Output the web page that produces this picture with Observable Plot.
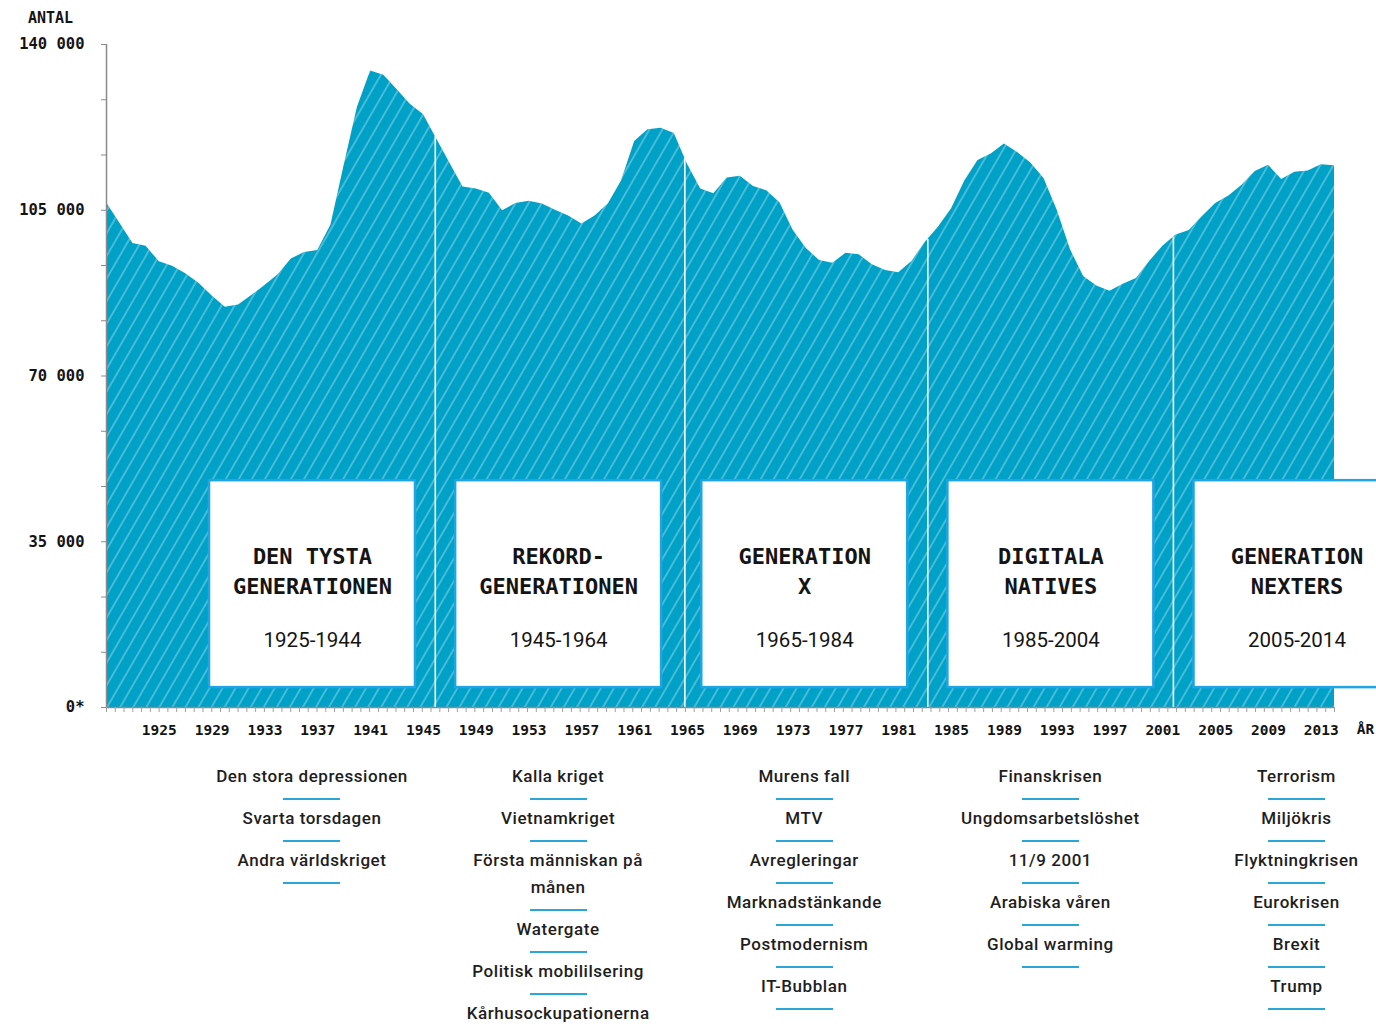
<!DOCTYPE html>
<html><head><meta charset="utf-8">
<script src="https://cdn.jsdelivr.net/npm/d3@7"></script>
<script src="https://cdn.jsdelivr.net/npm/@observablehq/plot@0.6"></script>
<style>
html,body{margin:0;padding:0;background:#fff;overflow:hidden;}
#chart{width:1376px;}
#chart svg{overflow:hidden;}
#lists{position:relative;width:1376px;height:287px;overflow:hidden;font-family:Roboto,"Noto Sans",sans-serif;font-weight:500;font-size:17px;letter-spacing:0.55px;color:#1e1e1e;}
.col{position:absolute;top:18px;width:204px;text-align:center;}
.item{line-height:27px;}
.bar{width:57px;height:2px;background:#2aa7d6;margin:8px auto 5px;}
</style></head><body>
<div id="chart"></div>
<div id="lists"></div>
<script>
// ---- data ----
const years = d3.range(1921, 2015);
const antal = [
  106600, 102300, 98000, 97400, 94100, 93200, 91600, 89600, 86900, 84500,
  85000, 87000, 89100, 91400, 94700, 96100, 96500, 101900, 114500, 126700,
  134400, 133500, 130500, 127400, 125200, 120100, 115000, 109900, 109500, 108600,
  104900, 106400, 106900, 106300, 105000, 103800, 102100, 103800, 106300, 111200,
  119500, 122000, 122300, 121200, 114700, 109500, 108500, 111800, 112200, 110000,
  109100, 106600, 100800, 96900, 94400, 93800, 95900, 95600, 93500, 92300,
  91800, 94200, 98200, 101400, 105300, 111200, 115500, 116900, 119000, 117200,
  115000, 111700, 105000, 96700, 91000, 89000, 87900, 89400, 90600, 94200,
  97400, 99800, 100700, 103700, 106400, 108000, 110300, 113200, 114500, 111500,
  113000, 113300, 114600, 114400
];
const dividerYears = [1945.9, 1964.8, 1983.2, 2001.8];
const genTitles = ["DEN TYSTA\nGENERATIONEN", "REKORD-\nGENERATIONEN", "GENERATION\nX", "DIGITALA\nNATIVES", "GENERATION\nNEXTERS"];
const genSpans = ["1925-1944", "1945-1964", "1965-1984", "1985-2004", "2005-2014"];
const events = [
  ["Den stora depressionen", "Svarta torsdagen", "Andra världskriget"],
  ["Kalla kriget", "Vietnamkriget", "Första människan på månen", "Watergate", "Politisk mobililsering", "Kårhusockupationerna"],
  ["Murens fall", "MTV", "Avregleringar", "Marknadstänkande", "Postmodernism", "IT-Bubblan"],
  ["Finanskrisen", "Ungdomsarbetslöshet", "11/9 2001", "Arabiska våren", "Global warming"],
  ["Terrorism", "Miljökris", "Flyktningkrisen", "Eurokrisen", "Brexit", "Trump"]
];
const xTickYears = [1925,1929,1933,1937,1941,1945,1949,1953,1957,1961,1965,1969,1973,1977,1981,1985,1989,1993,1997,2001,2005,2009,2013];
const yTickValues = [0, 35000, 70000, 105000, 140000];
const yTickLabels = ["0*", "35 000", "70 000", "105 000", "140 000"];
const yAxisLabel = "ANTAL";
const xAxisLabel = "ÅR";

// ---- layout (not data) ----
const boxLayout = {left0: 1928.8, step: 18.64, width: 15.6, lastRight: 2017.8, y1: 4200, y2: 47900, titleY: 29100, spanY: 14100};
const AREA = "#00a1c7", BORDER = "#1fa5e6", INK = "#141414";
const MONO = "DejaVu Sans Mono";

const table = years.map((year, i) => ({year, antal: antal[i]}));
const interp = yr => { const i = Math.floor(yr - years[0]); const t = yr - years[0] - i; return antal[i] * (1 - t) + antal[i + 1] * t; };
const boxes = genTitles.map((title, i) => {
  const x1 = boxLayout.left0 + i * boxLayout.step;
  const x2n = x1 + boxLayout.width;
  return {title, span: genSpans[i], x1, x2: i === genTitles.length - 1 ? boxLayout.lastRight : x2n, cx: (x1 + x2n) / 2};
});
const minorX = d3.range(141).map(i => years[0] + i * (years[years.length - 1] - years[0]) / 140);
const minorY = d3.range(13).map(i => i * 35000 / 3);

const chart = Plot.plot({
  width: 1376, height: 745,
  marginLeft: 106, marginRight: 42, marginTop: 44, marginBottom: 38,
  style: {fontFamily: MONO, color: INK, background: "#fff"},
  x: {domain: [years[0], years[years.length - 1]]},
  y: {domain: [0, 140000]},
  marks: [
    Plot.areaY(table, {x: "year", y: "antal", fill: AREA}),
    Plot.areaY(table, {x: "year", y: "antal", fill: "url(#hatch)"}),
    Plot.ruleX(dividerYears, {x: d => d, y1: 0, y2: d => interp(d), stroke: "#fff", strokeWidth: 1.6}),
    Plot.rect(boxes, {x1: "x1", x2: "x2", y1: boxLayout.y1, y2: boxLayout.y2, fill: "#fff", stroke: BORDER, strokeWidth: 2.5}),
    Plot.text(boxes, {x: "cx", y: boxLayout.titleY, text: "title", fontFamily: MONO, fontWeight: "bold", fontSize: 22, lineHeight: 1.37, fill: INK}),
    Plot.text(boxes, {x: "cx", y: boxLayout.spanY, text: "span", fontFamily: "Roboto", fontWeight: 400, fontSize: 20.5, fill: INK}),
    Plot.ruleY([0], {stroke: "#8a8a8a", strokeWidth: 1.5}),
    Plot.ruleX([years[0]], {y1: 0, y2: 140000, stroke: "#8a8a8a", strokeWidth: 1.5}),
    Plot.axisX({ticks: minorX, tickSize: 5, tickFormat: () => "", stroke: "#a0a0a0", label: null}),
    Plot.axisX({ticks: xTickYears, tickSize: 0, tickPadding: 17, tickFormat: d => String(d), fontWeight: "bold", fontSize: 14.5, fill: INK, label: null}),
    Plot.axisY({ticks: minorY, tickSize: 5, tickFormat: () => "", stroke: "#8a8a8a", label: null}),
    Plot.axisY({ticks: yTickValues, tickSize: 0, tickPadding: 22, tickFormat: d => yTickLabels[yTickValues.indexOf(d)], fontWeight: "bold", fontSize: 15.5, fill: INK, label: null}),
    Plot.text([yAxisLabel], {frameAnchor: "top-left", text: d => d, textAnchor: "middle", lineAnchor: "middle", dx: -56, dy: -26, fontWeight: "bold", fontSize: 15, fill: INK}),
    Plot.text([xAxisLabel], {frameAnchor: "bottom-right", text: d => d, textAnchor: "middle", lineAnchor: "middle", dx: 31, dy: 22, fontWeight: "bold", fontSize: 14.5, fill: INK})
  ]
});

// hatch pattern
const defs = d3.select(chart).insert("defs", ":first-child");
const pat = defs.append("pattern").attr("id", "hatch").attr("patternUnits", "userSpaceOnUse")
  .attr("width", 11.3).attr("height", 20).attr("patternTransform", "rotate(30)");
pat.append("line").attr("x1", 5.65).attr("x2", 5.65).attr("y1", -2).attr("y2", 22)
  .attr("stroke", "#fff").attr("stroke-opacity", 0.42).attr("stroke-width", 1.3);

document.getElementById("chart").appendChild(chart);

// event lists below boxes
const xs = chart.scale("x");
const lists = d3.select("#lists");
boxes.forEach((b, i) => {
  const col = lists.append("div").attr("class", "col").style("left", (xs.apply(b.cx) - 102) + "px");
  events[i].forEach(ev => {
    col.append("div").attr("class", "item").text(ev);
    col.append("div").attr("class", "bar");
  });
});
</script>
</body></html>
